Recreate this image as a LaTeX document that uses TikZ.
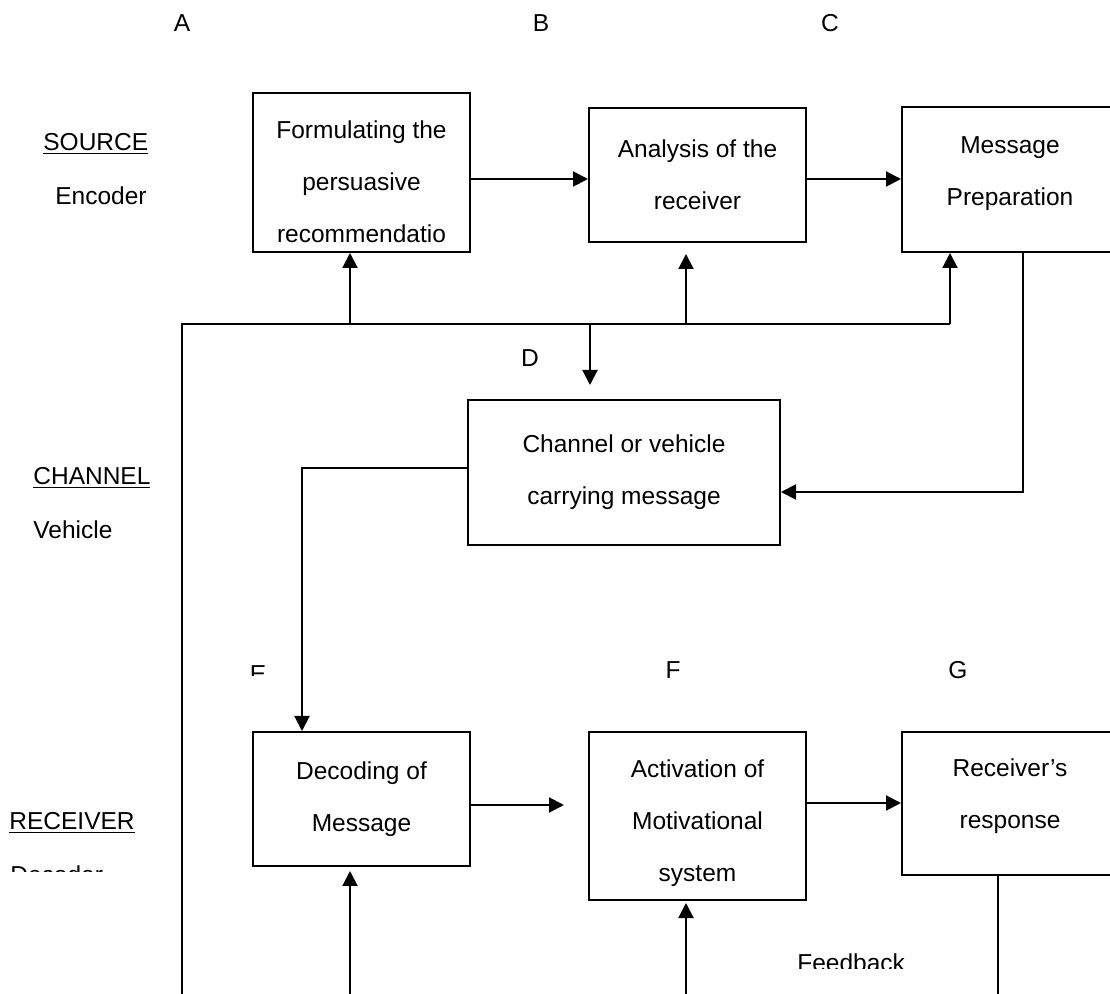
\documentclass[tikz,border=0pt]{standalone}
\usepackage{fontspec}
\setmainfont{Liberation Sans}
\usetikzlibrary{arrows.meta, positioning, calc}

% padding struts to sit the text lower / higher in its box
\newcommand{\toppad}[1]{\rule{0pt}{#1}}
\newcommand{\botpad}[1]{\rule[-#1]{0pt}{#1}}

\begin{document}
\begin{tikzpicture}[
    x=0.5pt, y=-0.5pt,
    every node/.style={font=\fontsize{12.25}{26}\selectfont},
    stage/.style={rectangle, draw=black, line width=1pt, align=center, inner sep=0pt},
    flow/.style={-{Triangle[length=7.5pt, width=7.5pt]}, line width=1pt},
    wire/.style={line width=1pt},
    tag/.style={inner sep=0pt},
    side/.style={inner sep=0pt, anchor=west}
]
\useasboundingbox (0,0) rectangle (1110,994);
\clip (0,0) rectangle (1110,994);

% Column letters
\node[tag] (colA) at (182,23) {A};
\node[tag] (colB) at (541,23) {B};
\node[tag] (colC) at (830,23) {C};

% Row labels on the left
\node[side] (srclbl) at (43,144) {\underline{SOURCE}};
\node[side] (enclbl) at (55,196) {Encoder};
\node[side] (chanlbl) at (33,478) {\underline{CHANNEL}};
\node[side] (vehlbl) at (33,530) {Vehicle};
\node[side] (reclbl) at (9,823) {\underline{RECEIVER}};
\begin{scope}
  \clip (0,0) rectangle (1110,872);
  \node[side] (declbl) at (10,875) {Decoder};
\end{scope}

% Source boxes
\node[stage, minimum width=108.5pt, minimum height=79.5pt] (formulate) at (361.5,172.5) {\toppad{18.5pt}Formulating the\\persuasive\\recommendatio};
\node[stage, minimum width=108.5pt, minimum height=67pt] (analysis) at (697.5,175) {Analysis of the\\receiver};
\node[stage, minimum width=108pt, minimum height=72.5pt] (prepare) at (1010,179.5) {Message\\Preparation\botpad{8.6pt}};

% Channel box
\node[tag] (lblD) at (530,358) {D};
\node[stage, minimum width=156pt, minimum height=72.5pt] (channel) at (624,472.5) {Channel or vehicle\\carrying message};

% Receiver boxes
\begin{scope}
  \clip (0,0) rectangle (1110,676);
  \node[tag] (lblE) at (258,674) {E};
\end{scope}
\node[tag] (lblF) at (673,670) {F};
\node[tag] (lblG) at (958,670) {G};
\node[stage, minimum width=108.5pt, minimum height=67pt] (decode) at (361.5,799) {Decoding of\\Message};
\node[stage, minimum width=108.5pt, minimum height=84pt] (activate) at (697.5,816) {\toppad{16pt}Activation of\\Motivational\\system};
\node[stage, minimum width=108pt, minimum height=71.5pt] (respond) at (1010,803.5) {Receiver's\\response\botpad{9.6pt}};

\begin{scope}
  \clip (0,0) rectangle (1110,968);
  \node[side] (fblbl) at (797,963) {Feedback};
\end{scope}

% Feedback bus
\coordinate (busL) at (182,324);
\coordinate (busR) at (950,324);
\coordinate (tapA) at (350,324);
\coordinate (tapB) at (686,324);
\coordinate (tapD) at (590,324);
\coordinate (botL) at (182,994);
\coordinate (botE) at (350,994);
\coordinate (botF) at (686,994);
\coordinate (botG) at (998,994);

% Arrows - source row
\draw[flow] (formulate.east |- 0,179) -- (analysis.west |- 0,179);
\draw[flow] (analysis.east |- 0,179) -- (prepare.west |- 0,179);

% Arrows - feedback into source and channel
\draw[wire] (botL) -- (busL) -- (busR);
\draw[flow] (tapA) -- (tapA |- formulate.south);
\draw[flow, shorten >=5.5pt] (tapB) -- (tapB |- analysis.south);
\draw[flow] (busR) -- (busR |- prepare.south);
\draw[flow, shorten >=7pt] (tapD) -- (tapD |- channel.north);

% Arrows - through the channel
\draw[flow] ([xshift=6.5pt]prepare.south) |- ([yshift=-9.75pt]channel.east);
\draw[flow] ([yshift=2pt]channel.west) -| ([xshift=-29.75pt]decode.north);

% Arrows - receiver row
\draw[flow, shorten >=12pt] (decode.east |- 0,805) -- (activate.west |- 0,805);
\draw[flow] (activate.east |- 0,803) -- (respond.west |- 0,803);
\draw[wire] ([xshift=-6pt]respond.south) -- (botG);
\draw[flow, shorten >=2pt] (botE) -- (botE |- decode.south);
\draw[flow, shorten >=1pt] (botF) -- (botF |- activate.south);

\end{tikzpicture}
\end{document}
